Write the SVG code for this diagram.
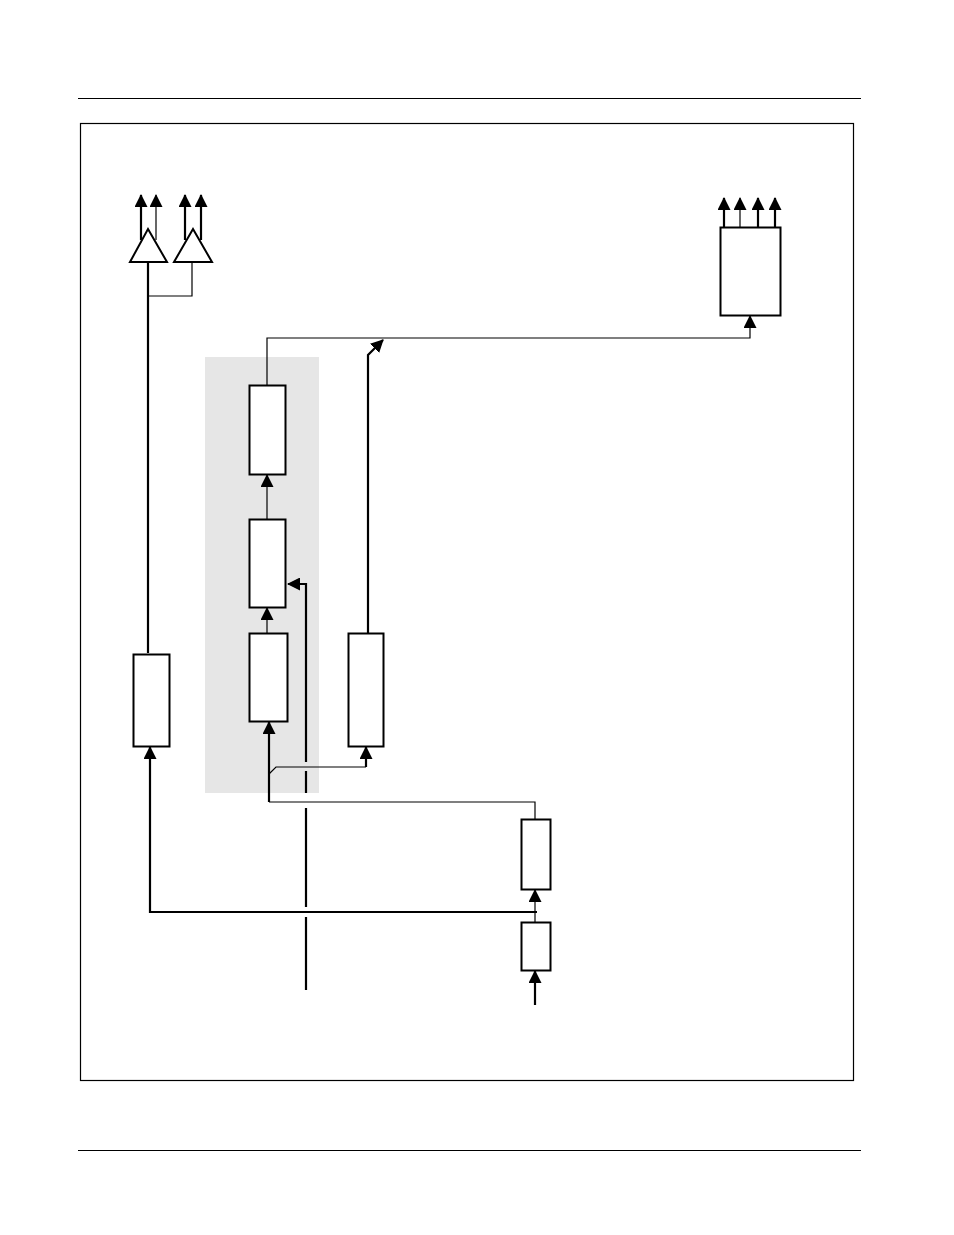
<svg xmlns="http://www.w3.org/2000/svg" width="954" height="1235" viewBox="0 0 954 1235">
<style>
.b{fill:#fff;stroke:#000;stroke-width:2}
.t{fill:none;stroke:#000;stroke-width:1.2}
.k{fill:none;stroke:#000;stroke-width:2.2}
</style>
<defs>
<marker id="m" viewBox="0 0 13 13" refX="12" refY="6.5" markerWidth="13" markerHeight="13" markerUnits="userSpaceOnUse" orient="auto"><path d="M0,0L13,6.5L0,13z"/></marker>
</defs>
<rect width="954" height="1235" fill="#fff"/>
<line x1="78" y1="98.5" x2="861" y2="98.5" stroke="#000" stroke-width="1"/>
<line x1="78" y1="1150.5" x2="861" y2="1150.5" stroke="#000" stroke-width="1"/>
<rect x="80.5" y="123.5" width="773" height="957" fill="none" stroke="#000" stroke-width="1.2"/>
<rect x="205" y="357" width="114" height="436" fill="#e6e6e6"/>
<g id="connectors">
<path class="k" d="M141,240V195" marker-end="url(#m)"/>
<path class="t" d="M156,240V195" marker-end="url(#m)"/>
<path class="k" d="M185,240V195" marker-end="url(#m)"/>
<path class="k" d="M201,240V195" marker-end="url(#m)"/>
<path class="k" d="M148,262V653"/>
<path class="t" d="M192,262V296H148"/>
<path class="t" d="M267,385V338H750V316" marker-end="url(#m)"/>
<path class="k" d="M368,633V355L383,340" marker-end="url(#m)"/>
<path class="t" d="M267,519V475" marker-end="url(#m)"/>
<path class="t" d="M267,633V608" marker-end="url(#m)"/>
<path class="k" d="M306,762V584H288" marker-end="url(#m)"/>
<path class="k" d="M306,771V793M306,808V907M306,917V990"/>
<path class="t" d="M535,819V802H269"/>
<path class="k" d="M269,802V722" marker-end="url(#m)"/>
<path class="t" d="M269,774L276,767H366"/>
<path class="k" d="M366,767V747" marker-end="url(#m)"/>
<path class="k" d="M537,912H150V747" marker-end="url(#m)"/>
<path class="t" d="M535,922V890" marker-end="url(#m)"/>
<path class="k" d="M535,1005V971" marker-end="url(#m)"/>
<path class="k" d="M724,227V198" marker-end="url(#m)"/>
<path class="t" d="M740,227V198" marker-end="url(#m)"/>
<path class="k" d="M758,227V198" marker-end="url(#m)"/>
<path class="k" d="M775,227V198" marker-end="url(#m)"/>
</g>
<g id="amp1"><path class="b" d="M148,229L167,262H130Z" stroke-width="1.5"/></g>
<g id="amp2"><path class="b" d="M193,229L212,262H174Z" stroke-width="1.5"/></g>
<g id="boxA"><rect class="b" x="249.5" y="385.5" width="36" height="89" stroke-width="1.5"/></g>
<g id="boxB"><rect class="b" x="249.5" y="519.5" width="36" height="88" stroke-width="1.5"/></g>
<g id="boxC"><rect class="b" x="249.5" y="633.5" width="38" height="88" stroke-width="1.5"/></g>
<g id="boxD"><rect class="b" x="348.5" y="633.5" width="35" height="113"/></g>
<g id="boxE"><rect class="b" x="133.5" y="654.5" width="36" height="92"/></g>
<g id="boxF"><rect class="b" x="521.5" y="819.5" width="29" height="70"/></g>
<g id="boxG"><rect class="b" x="521.5" y="922.5" width="29" height="48"/></g>
<g id="boxH"><rect class="b" x="720.5" y="227.5" width="60" height="88" stroke-width="1.5"/></g>
</svg>
